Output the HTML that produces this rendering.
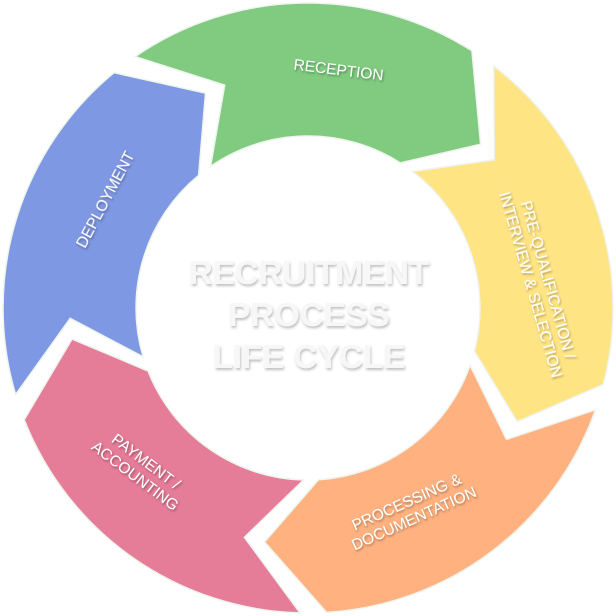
<!DOCTYPE html>
<html><head><style>html,body{margin:0;padding:0;background:#fff}svg{display:block}</style></head>
<body>
<svg width="616" height="616" viewBox="0 0 616 616" xmlns="http://www.w3.org/2000/svg">
<defs>
<filter id="sh" x="-20%" y="-20%" width="140%" height="140%"><feDropShadow dx="1" dy="1.5" stdDeviation="1" flood-color="#000" flood-opacity="0.35"/></filter>
<filter id="sh2" x="-20%" y="-20%" width="140%" height="140%"><feDropShadow dx="1" dy="2" stdDeviation="1.2" flood-color="#000" flood-opacity="0.25"/></filter>
</defs>
<g stroke="#eef4ee" stroke-width="1.5">
<path fill="#80cb80" d="M135.2,56.6 A305,305 0 0 1 471.9,50.8 L480.6,144.2 L400.4,162.9 A172,172 0 0 0 210.6,166.3 L224.7,85.1 Z"/>
<path fill="#ffe484" d="M493.7,66.0 A305,305 0 0 1 603.3,384.4 L517.2,421.6 L474.5,351.1 A172,172 0 0 0 412.7,171.5 L494.3,159.8 Z"/>
<path fill="#ffb27f" d="M595.5,409.8 A305,305 0 0 1 326.6,612.4 L264.6,542.0 L318.5,479.7 A172,172 0 0 0 470.1,365.4 L506.5,439.4 Z"/>
<path fill="#e57c98" d="M300.0,612.9 A305,305 0 0 1 24.2,419.8 L72.0,339.1 L148.0,371.0 A172,172 0 0 0 303.5,480.0 L244.4,537.3 Z"/>
<path fill="#7f98e3" d="M15.6,394.6 A305,305 0 0 1 114.0,72.7 L205.5,93.2 L198.6,175.3 A172,172 0 0 0 143.1,356.8 L70.2,318.4 Z"/>
</g>
<g font-family="Liberation Sans, sans-serif" font-size="15.5" fill="#fff" text-anchor="middle" filter="url(#sh)">
<text transform="translate(338,75) rotate(7)">RECEPTION</text>
<text transform="translate(540,282) rotate(74)"><tspan x="0" y="-3">PRE-QUALIFICATION /</tspan><tspan x="0" y="15">INTERVIEW &amp; SELECTION</tspan></text>
<text transform="translate(412,514) rotate(-24)"><tspan x="0" y="-8">PROCESSING &amp;</tspan><tspan x="0" y="10">DOCUMENTATION</tspan></text>
<text transform="translate(138,472) rotate(37)"><tspan x="0" y="-8">PAYMENT  /</tspan><tspan x="0" y="10">ACCOUNTING</tspan></text>
<text transform="translate(110,202) rotate(-62)">DEPLOYMENT</text>
</g>
<g font-family="Liberation Sans, sans-serif" font-size="33" font-weight="bold" fill="#f7f7f7" text-anchor="middle" filter="url(#sh2)">
<text x="309" y="284">RECRUITMENT</text>
<text x="309" y="326">PROCESS</text>
<text x="309" y="368">LIFE CYCLE</text>
</g>
</svg>
</body></html>
